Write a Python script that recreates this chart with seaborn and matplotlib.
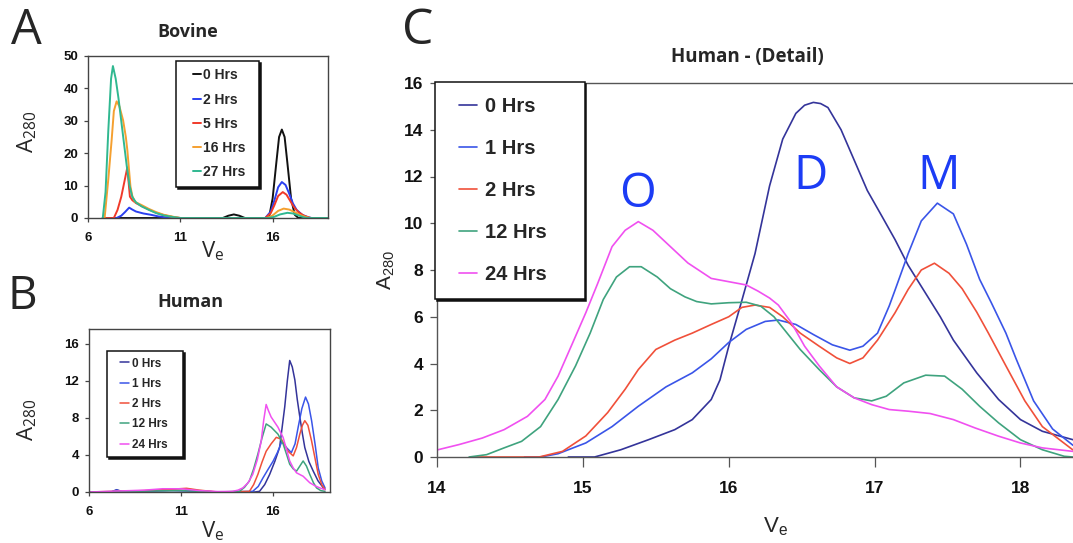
import matplotlib
matplotlib.use("Agg")
import matplotlib.pyplot as plt
from matplotlib.lines import Line2D
from matplotlib.legend_handler import HandlerLine2D
import seaborn as sns

# ---------------- data ----------------
# Panel A - Bovine
bov_labels = ["0 Hrs", "2 Hrs", "5 Hrs", "16 Hrs", "27 Hrs"]
bov_colors = ["#111111", "#2a3ff0", "#f03a2a", "#f5a030", "#30b890"]
bov_0_x = [6.8, 13.3, 13.6, 13.9, 14.2, 14.5, 15.8, 16.0, 16.2, 16.35, 16.5, 16.65, 16.8, 17.0, 17.2, 17.4, 19.0]
bov_0_y = [0, 0, 0.7, 1.1, 0.7, 0, 0, 6, 17, 25, 27.3, 25, 17, 6, 1, 0, 0]
bov_2_x = [6.8, 7.55, 7.8, 8.0, 8.23, 8.4, 8.6, 9.0, 9.4, 9.8, 10.3, 10.8, 15.6, 15.9, 16.1, 16.3, 16.5, 16.7, 16.9, 17.1, 17.3, 17.6, 17.9, 18.1, 19.0]
bov_2_y = [0, 0, 0.7, 1.8, 3.2, 2.6, 2.0, 1.4, 1.0, 0.5, 0.15, 0, 0, 2, 5.5, 9.5, 11.1, 10.2, 7.5, 4.5, 2.5, 1.0, 0.3, 0, 0]
bov_5_x = [6.8, 7.4, 7.6, 7.8, 8.0, 8.13, 8.2, 8.27, 8.4, 8.6, 8.9, 9.3, 9.7, 10.1, 10.6, 11.0, 15.6, 15.9, 16.1, 16.3, 16.55, 16.75, 16.95, 17.15, 17.4, 17.7, 18.0, 18.1, 19.0]
bov_5_y = [0, 0, 2.5, 6.5, 12, 15.6, 11, 6.6, 5.5, 4.6, 3.7, 2.6, 1.6, 0.9, 0.3, 0, 0, 1.5, 4, 6.8, 8.0, 7.2, 5.3, 3.4, 1.8, 0.7, 0.1, 0, 0]
bov_16_x = [6.8, 6.9, 7.1, 7.28, 7.4, 7.55, 7.7, 7.9, 8.05, 8.13, 8.22, 8.3, 8.4, 8.54, 8.9, 9.3, 9.7, 10.1, 10.6, 11.0, 15.7, 16.0, 16.3, 16.6, 16.9, 17.2, 17.5, 17.8, 18.0, 19.0]
bov_16_y = [0, 0, 12, 24, 33, 36, 34.5, 30.2, 25, 21, 15, 9.7, 6.8, 5.0, 4.0, 2.8, 1.8, 1.0, 0.4, 0, 0, 0.8, 2.2, 2.9, 2.6, 1.8, 0.9, 0.3, 0, 0]
bov_27_x = [6.8, 6.95, 7.1, 7.25, 7.35, 7.5, 7.65, 7.8, 7.95, 8.1, 8.25, 8.4, 8.6, 8.9, 9.3, 9.7, 10.1, 10.6, 11.0, 15.8, 16.1, 16.4, 16.8, 17.1, 17.4, 17.7, 17.9, 19.0]
bov_27_y = [0, 8, 27, 43, 46.9, 43, 37, 30, 23, 16, 10, 6.5, 4.8, 3.6, 2.5, 1.5, 0.8, 0.3, 0, 0, 0.4, 1.1, 1.6, 1.4, 0.8, 0.2, 0, 0]

# Panel B - Human
hum_labels = ["0 Hrs", "1 Hrs", "2 Hrs", "12 Hrs", "24 Hrs"]
hum_colors = ["#34349a", "#3a55e8", "#f0503a", "#3fa37e", "#f050f0"]
hb_0_x = [6, 7.2, 7.5, 7.8, 9.0, 10.5, 12.0, 13.0, 15.0, 15.27, 15.55, 15.82, 16.1, 16.36, 16.5, 16.64, 16.78, 16.91, 17.05, 17.19, 17.32, 17.46, 17.6, 17.73, 17.95, 18.19, 18.45, 18.74, 18.83]
hb_0_y = [0, 0, 0.25, 0.05, 0.1, 0.2, 0.1, 0, 0, 0.07, 0.8, 1.9, 3.3, 4.8, 7.0, 9.2, 12.0, 14.2, 13.5, 12.1, 10.0, 8.1, 6.3, 4.8, 3.3, 2.25, 1.2, 0.45, 0.3]
hb_1_x = [6, 7.2, 7.5, 7.8, 9, 10.5, 12, 13, 14.9, 15.2, 15.45, 15.75, 16.0, 16.25, 16.46, 16.6, 16.73, 17.0, 17.2, 17.37, 17.57, 17.77, 17.93, 18.1, 18.3, 18.46, 18.65, 18.83]
hb_1_y = [0, 0, 0.2, 0.05, 0.1, 0.15, 0.1, 0, 0.07, 0.6, 1.5, 2.5, 3.3, 4.3, 5.35, 5.2, 4.8, 4.25, 5.2, 7.0, 9.0, 10.25, 9.5, 7.7, 5.0, 2.6, 1.2, 0.44]
hb_2_x = [6, 9, 10.5, 11.3, 12, 13, 14.72, 14.95, 15.18, 15.4, 15.63, 15.9, 16.18, 16.46, 16.65, 16.82, 17.1, 17.28, 17.46, 17.6, 17.73, 17.9, 18.1, 18.3, 18.46, 18.65, 18.83]
hb_2_y = [0, 0.15, 0.3, 0.4, 0.2, 0, 0.07, 0.8, 1.9, 3.2, 4.4, 5.2, 5.9, 5.7, 5.0, 4.4, 3.9, 4.8, 6.25, 7.2, 7.7, 7.2, 5.5, 3.5, 1.9, 0.8, 0.25]
hb_12_x = [6, 9, 11, 13, 14.18, 14.45, 14.72, 14.95, 15.18, 15.4, 15.63, 15.9, 16.27, 16.55, 16.75, 16.91, 17.1, 17.28, 17.46, 17.64, 17.82, 18.0, 18.2, 18.37, 18.6, 18.83]
hb_12_y = [0, 0.1, 0.15, 0, 0.07, 0.5, 1.2, 2.5, 4.1, 5.8, 7.35, 7.0, 6.25, 5.2, 4.0, 3.0, 2.5, 2.25, 2.8, 3.35, 2.8, 1.9, 1.0, 0.44, 0.15, 0.07]
hb_24_x = [6, 9, 10, 11, 12, 13, 13.8, 14.1, 14.36, 14.65, 14.9, 15.15, 15.36, 15.5, 15.63, 15.75, 15.9, 16.27, 16.55, 16.75, 16.91, 17.1, 17.28, 17.64, 18.0, 18.3, 18.55, 18.83]
hb_24_y = [0, 0.2, 0.35, 0.35, 0.15, 0.05, 0.07, 0.2, 0.44, 1.0, 1.9, 3.5, 5.5, 7.8, 9.45, 8.8, 8.1, 7.0, 5.9, 4.5, 3.35, 2.6, 2.07, 1.7, 1.0, 0.65, 0.44, 0.25]

# Panel C - Human detail
hc_0_x = [14.9, 15.08, 15.26, 15.45, 15.63, 15.75, 15.88, 15.94, 16.0, 16.09, 16.18, 16.28, 16.37, 16.46, 16.52, 16.58, 16.63, 16.68, 16.77, 16.86, 16.95, 17.05, 17.14, 17.23, 17.35, 17.45, 17.54, 17.7, 17.85, 18.0, 18.15, 18.36]
hc_0_y = [0, 0, 0.31, 0.74, 1.17, 1.6, 2.46, 3.3, 4.74, 6.7, 8.7, 11.6, 13.6, 14.7, 15.05, 15.17, 15.12, 14.95, 14.0, 12.7, 11.4, 10.3, 9.3, 8.2, 7.0, 6.0, 5.0, 3.6, 2.46, 1.6, 1.1, 0.74]
hc_1_x = [14.6, 14.71, 14.83, 15.02, 15.2, 15.38, 15.57, 15.75, 15.88, 16.0, 16.12, 16.25, 16.34, 16.46, 16.58, 16.71, 16.83, 16.92, 17.02, 17.1, 17.14, 17.23, 17.32, 17.43, 17.54, 17.63, 17.72, 17.8, 17.9, 17.97, 18.09, 18.22, 18.36]
hc_1_y = [0, 0, 0.14, 0.6, 1.3, 2.17, 3.0, 3.6, 4.2, 4.9, 5.46, 5.8, 5.86, 5.67, 5.24, 4.8, 4.57, 4.74, 5.3, 6.46, 7.14, 8.7, 10.1, 10.86, 10.4, 9.1, 7.6, 6.6, 5.3, 4.2, 2.4, 1.2, 0.5]
hc_2_x = [14.25, 14.7, 14.86, 15.02, 15.17, 15.29, 15.38, 15.5, 15.63, 15.75, 15.88, 16.0, 16.09, 16.18, 16.28, 16.37, 16.49, 16.62, 16.74, 16.83, 16.92, 17.02, 17.14, 17.23, 17.32, 17.41, 17.51, 17.6, 17.7, 17.78, 17.9, 18.03, 18.15, 18.36]
hc_2_y = [0, 0, 0.24, 0.9, 1.9, 2.9, 3.74, 4.6, 5.0, 5.3, 5.67, 6.0, 6.4, 6.5, 6.4, 6.0, 5.3, 4.74, 4.24, 4.0, 4.24, 5.0, 6.17, 7.17, 8.0, 8.29, 7.86, 7.2, 6.2, 5.3, 3.9, 2.4, 1.3, 0.3]
hc_12_x = [14.22, 14.34, 14.46, 14.58, 14.71, 14.83, 14.95, 15.05, 15.14, 15.23, 15.32, 15.4, 15.51, 15.6, 15.7, 15.78, 15.88, 16.0, 16.12, 16.22, 16.31, 16.4, 16.49, 16.62, 16.74, 16.86, 16.98, 17.08, 17.2, 17.35, 17.48, 17.6, 17.72, 17.85, 18.0, 18.15, 18.3, 18.36]
hc_12_y = [0, 0.1, 0.39, 0.67, 1.3, 2.46, 3.9, 5.3, 6.74, 7.7, 8.14, 8.14, 7.7, 7.2, 6.85, 6.65, 6.55, 6.6, 6.62, 6.45, 6.0, 5.3, 4.6, 3.74, 3.0, 2.53, 2.4, 2.6, 3.17, 3.5, 3.46, 2.9, 2.17, 1.46, 0.74, 0.31, 0.03, 0]
hc_24_x = [14.0, 14.15, 14.31, 14.46, 14.62, 14.74, 14.83, 14.92, 15.02, 15.1, 15.2, 15.29, 15.38, 15.48, 15.6, 15.72, 15.88, 16.0, 16.12, 16.2, 16.28, 16.34, 16.43, 16.52, 16.62, 16.74, 16.86, 16.98, 17.1, 17.23, 17.38, 17.54, 17.69, 17.85, 18.0, 18.15, 18.36]
hc_24_y = [0.3, 0.53, 0.81, 1.17, 1.74, 2.46, 3.46, 4.74, 6.17, 7.4, 9.0, 9.7, 10.07, 9.7, 9.0, 8.3, 7.64, 7.5, 7.36, 7.1, 6.8, 6.5, 5.74, 4.74, 3.9, 3.0, 2.53, 2.24, 2.03, 1.96, 1.86, 1.6, 1.24, 0.89, 0.6, 0.39, 0.24]

peak_names = ["O", "D", "M"]
peak_x = [15.375, 16.56, 17.44]
peak_y = [11.26, 12.0, 12.03]

# ---------------- style ----------------
W, H = 1073, 543
sns.set_style("ticks")
plt.rcParams["font.family"] = ["Liberation Sans", "DejaVu Sans"]
BOLD = ["Liberation Sans", "DejaVu Sans"]
NARROW = ["Liberation Sans Narrow", "Liberation Sans", "DejaVu Sans"]
HUMAN = ["Open Sans", "DejaVu Sans"]


def box(left, top, right, bottom):
    return [left / W, 1 - bottom / H, (right - left) / W, (bottom - top) / H]


def ftext(x, y, s, **kw):
    fig.text(x / W, 1 - y / H, s, ha="center", va="center", **kw)


def style_axes(ax, tickfont, tsize, xlen, ylen, xpad, ypad, spine_col="#444444"):
    for sp in ax.spines.values():
        sp.set_color(spine_col)
        sp.set_linewidth(1.0)
    ax.tick_params(axis="x", length=xlen, width=0.9, color=spine_col, pad=xpad)
    ax.tick_params(axis="y", length=ylen, width=0.9, color=spine_col, pad=ypad)
    for lab in ax.get_xticklabels() + ax.get_yticklabels():
        lab.set_family(tickfont)
        lab.set_weight("bold")
        lab.set_size(tsize)
        lab.set_color("#111111")
    ax.set_xlabel("")
    ax.set_ylabel("")


def add_legend(ax, labels, font, fs, anchor, spacing, pad, xpad, hlen, tpad):
    handles = ax.get_lines()[:len(labels)]
    leg = ax.legend(handles, labels, loc="upper left", bbox_to_anchor=anchor,
                    mode="expand", borderaxespad=0, fancybox=False, framealpha=1,
                    edgecolor="#111111",
                    shadow={"color": "#111111", "alpha": 1, "ox": 1.4, "oy": -1.4},
                    prop={"family": font, "weight": "bold", "size": fs},
                    labelspacing=spacing, borderpad=pad, handlelength=hlen,
                    handletextpad=tpad,
                    handler_map={Line2D: HandlerLine2D(xpad=xpad)})
    leg.get_frame().set_linewidth(1.1)
    return leg


fig = plt.figure(figsize=(W / 100, H / 100), dpi=100)

# ---------------- panel A ----------------
axA = fig.add_axes(box(88, 56, 328, 218))
bov = [(bov_0_x, bov_0_y), (bov_2_x, bov_2_y), (bov_5_x, bov_5_y),
       (bov_16_x, bov_16_y), (bov_27_x, bov_27_y)]
for (xs, ys), lab, col in zip(bov, bov_labels, bov_colors):
    sns.lineplot(x=xs, y=ys, color=col, lw=1.4, ax=axA, label=lab)
axA.set_xlim(6, 19)
axA.set_ylim(0, 50)
axA.set_xticks([6, 11, 16])
axA.set_yticks([0, 10, 20, 30, 40, 50])
style_axes(axA, BOLD, 9.5, 3, 3, 7, 4)
add_legend(axA, bov_labels, BOLD, 10, (0.367, 0, 0.346, 0.969), 0.74, 0.52, 0.7, 1.28, 0.15)

# ---------------- panel B ----------------
axB = fig.add_axes(box(89, 329, 330, 492))
hb = [(hb_0_x, hb_0_y), (hb_1_x, hb_1_y), (hb_2_x, hb_2_y),
      (hb_12_x, hb_12_y), (hb_24_x, hb_24_y)]
for (xs, ys), lab, col in zip(hb, hum_labels, hum_colors):
    sns.lineplot(x=xs, y=ys, color=col, lw=1.1, ax=axB, label=lab)
axB.set_xlim(6, 19.1)
axB.set_ylim(0, 17.6)
axB.set_xticks([6, 11, 16])
axB.set_yticks([0, 4, 8, 12, 16])
style_axes(axB, BOLD, 9.5, 3, 3, 7, 4)
add_legend(axB, hum_labels, BOLD, 8.5, (0.075, 0, 0.315, 0.865), 0.7, 0.56, 0.54, 1.3, 0.25)

# ---------------- panel C ----------------
axC = fig.add_axes(box(437, 83, 1073, 457))
hc = [(hc_0_x, hc_0_y), (hc_1_x, hc_1_y), (hc_2_x, hc_2_y),
      (hc_12_x, hc_12_y), (hc_24_x, hc_24_y)]
for (xs, ys), lab, col in zip(hc, hum_labels, hum_colors):
    sns.lineplot(x=xs, y=ys, color=col, lw=1.2, ax=axC, label=lab)
axC.set_xlim(14, 18.36)
axC.set_ylim(0, 16)
axC.set_xticks([14, 15, 16, 17, 18])
axC.set_yticks(range(0, 17, 2))
axC.spines["right"].set_visible(False)
style_axes(axC, NARROW, 12.5, 7, 5, 10, 5, spine_col="#555555")
add_legend(axC, hum_labels, NARROW, 14.5, (-0.003, 0, 0.235, 1.002), 1.15, 0.72, 0.47, 1.37, 0.4)
for name, px, py in zip(peak_names, peak_x, peak_y):
    axC.text(px, py, name, color="#1c3cf5", fontsize=34, family=HUMAN,
             ha="center", va="center")

# ---------------- figure texts ----------------
ftext(26, 31, "A", fontsize=35, family=HUMAN)
ftext(22, 297, "B", fontsize=33, family=HUMAN)
ftext(418, 31, "C", fontsize=36, family=HUMAN)

ftext(188, 32, "Bovine", fontsize=13, family=HUMAN, weight="bold")
ftext(190, 302, "Human", fontsize=13, family=HUMAN, weight="bold")
ftext(747, 57, "Human - (Detail)", fontsize=13.5, family=HUMAN, weight="bold")

ylab = r"$\mathregular{A_{280}}$"
xlab = r"$\mathregular{V_e}$"
ftext(27, 132, ylab, fontsize=16, family=HUMAN, rotation=90)
ftext(27, 420, ylab, fontsize=16, family=HUMAN, rotation=90)
ftext(386, 270, ylab, fontsize=15, family=NARROW, rotation=90)
ftext(213, 251, xlab, fontsize=16, family=HUMAN)
ftext(213, 531, xlab, fontsize=16, family=HUMAN)
ftext(775, 527, xlab, fontsize=16, family=NARROW)

fig.savefig("out.png", dpi=100)
